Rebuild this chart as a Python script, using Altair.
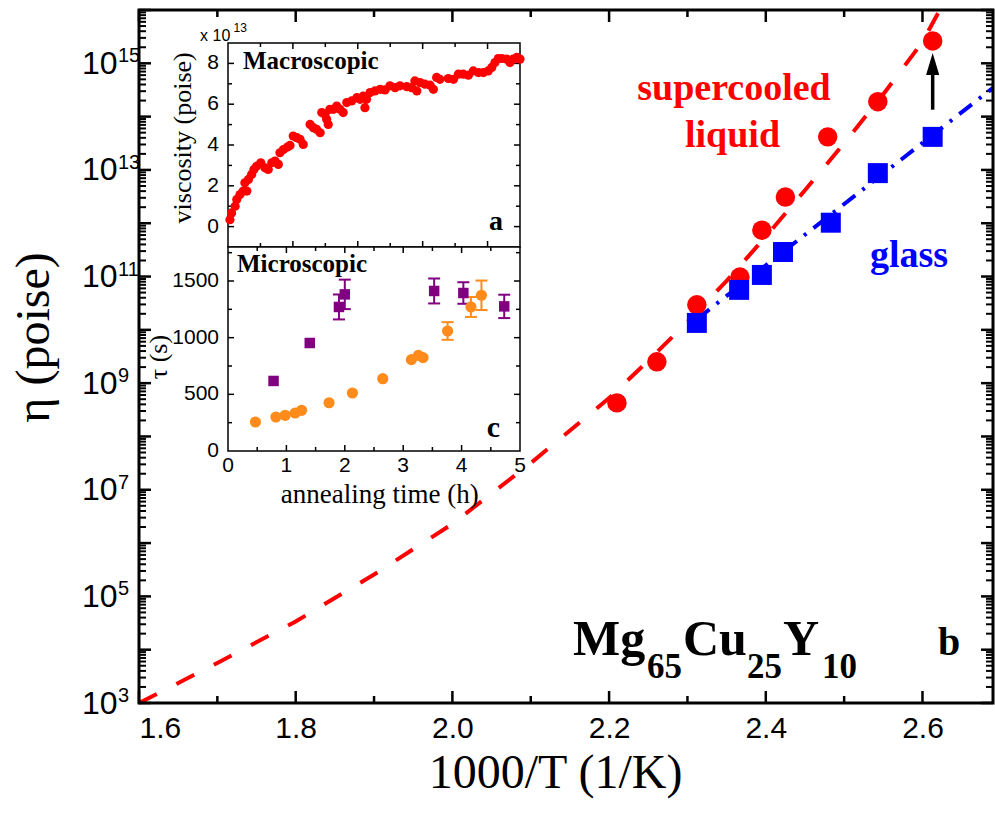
import altair as alt
import pandas as pd

# ---------------- main panel (b): 1000/T vs log10(eta) ----------------
liq_x = [2.210, 2.261, 2.312, 2.367, 2.395, 2.425, 2.479, 2.543, 2.613]
liq_log = [8.63, 9.40, 10.47, 10.99, 11.87, 12.49, 13.62, 14.28, 15.42]
gls_x = [2.312, 2.366, 2.395, 2.422, 2.483, 2.543, 2.613]
gls_log = [10.13, 10.75, 11.03, 11.46, 12.01, 12.94, 13.62]
vft_x = [1.60, 1.70, 1.80, 1.90, 2.00, 2.10, 2.20, 2.25, 2.30, 2.35, 2.40, 2.45, 2.50, 2.55, 2.60, 2.622]
vft_log = [3.00, 3.75, 4.53, 5.41, 6.36, 7.50, 8.72, 9.42, 10.15, 10.92, 11.75, 12.62, 13.50, 14.42, 15.40, 16.0]
fit_x = [2.312, 2.69]
fit_log = [10.20, 14.54]
arrow_x = [2.613]
arrow_from_log = [14.13]
arrow_to_log = [14.85]
arrow_head_log = [14.985]

x_tick_labels = [1.6, 1.8, 2.0, 2.2, 2.4, 2.6]
x_minor = [1.7, 1.9, 2.1, 2.3, 2.5]
y_label_exp = [3, 5, 7, 9, 11, 13, 15]
y_major_exp = list(range(3, 17))
y_minor_k = [2, 3, 4, 5, 6, 7, 8, 9]

# ---------------- inset a: macroscopic viscosity (x 1e13 poise) ----------------
macro_t = [0.06, 0.11, 0.22, 0.27, 0.37, 0.47, 0.58, 0.52, 0.63, 0.73, 0.80, 0.88, 1.01, 1.14, 1.24,
           1.35, 1.45, 1.55, 1.60, 1.71, 1.83, 1.91, 2.01, 2.12, 2.22, 2.32, 2.53, 2.63, 2.73, 2.84,
           2.89, 2.99, 3.04, 3.09, 3.14, 3.25, 3.35, 3.45, 3.55, 3.66, 3.81, 3.97, 4.07, 4.17, 4.22,
           4.27, 4.38, 4.53, 4.69, 4.84, 4.99, 5.15, 5.30, 5.51, 5.66, 5.76, 5.82, 5.92, 6.07, 6.23,
           6.33, 6.43, 6.53, 6.79, 6.95, 7.10, 7.25, 7.41, 7.56, 7.72, 7.87, 8.02, 8.13, 8.23, 8.33,
           8.44, 8.59, 8.69, 8.79, 8.90, 9.00]
macro_visc = [0.34, 0.67, 1.00, 1.33, 1.57, 1.74, 1.74, 2.15, 2.31, 2.56, 2.80, 2.96, 3.13, 2.88, 2.80,
              3.13, 3.21, 3.05, 3.62, 3.78, 3.90, 3.98, 4.44, 4.36, 4.28, 4.03, 5.01, 4.85, 4.77, 4.60,
              5.59, 5.50, 5.26, 5.01, 5.75, 5.75, 5.91, 5.75, 5.59, 6.08, 6.16, 6.32, 6.24, 6.40, 5.83,
              6.24, 6.57, 6.65, 6.73, 6.70, 6.90, 6.81, 6.90, 6.86, 6.81, 7.14, 6.65, 7.06, 6.98, 6.93,
              6.73, 7.31, 7.22, 7.26, 7.22, 7.47, 7.47, 7.42, 7.63, 7.55, 7.55, 7.63, 7.80, 8.04, 8.24,
              8.24, 8.21, 8.04, 8.21, 8.29, 8.21]

# ---------------- inset c: microscopic tau (s) vs annealing time (h) ----------------
orange_t = [0.47, 0.82, 0.98, 1.15, 1.26, 1.73, 2.13, 2.65, 3.14, 3.26, 3.34, 3.76, 4.16, 4.34]
orange_tau = [256, 300, 315, 335, 359, 426, 512, 638, 806, 844, 824, 1059, 1271, 1374]
orange_err = [0, 0, 0, 0, 0, 0, 0, 0, 0, 0, 0, 78, 88, 130]
purple_t = [0.78, 1.40, 1.90, 2.00, 3.53, 4.03, 4.73]
purple_tau = [618, 953, 1271, 1382, 1412, 1394, 1276]
purple_err = [0, 0, 110, 130, 110, 95, 103]

# ---------------- scales (explicit, so independent layers line up) ----------------
XM = alt.Scale(domain=[1.6, 2.69], nice=False, zero=False)
YM = alt.Scale(type='log', domain=[1e3, 1e16], nice=False)
XA = alt.Scale(domain=[0, 9], range=[89, 381], nice=False, zero=False)
YA = alt.Scale(domain=[-1, 9], range=[237, 33], nice=False, zero=False)
XC = alt.Scale(domain=[0, 5], range=[89, 381], nice=False, zero=False)
YC = alt.Scale(domain=[0, 1800], range=[441, 237], nice=False, zero=False)

RED = '#ff0000'
BLUE = '#0000ff'
ORANGE = '#ff8c1a'
PURPLE = '#800080'
SERIF = 'Liberation Serif'
SANS = 'Liberation Sans'


def ticks(values, side, length, xs, ys, fixed, sw):
    df = pd.DataFrame({'v': values, 'f': [fixed] * len(values)})
    if side in ('bottom', 'top'):
        off = -length if side == 'bottom' else length
        return alt.Chart(df).mark_rule(color='black', strokeWidth=sw, y2Offset=off).encode(
            x=alt.X('v:Q', scale=xs, axis=None),
            y=alt.Y('f:Q', scale=ys, axis=None),
            y2=alt.Y2('f:Q'))
    off = length if side == 'left' else -length
    return alt.Chart(df).mark_rule(color='black', strokeWidth=sw, x2Offset=off).encode(
        x=alt.X('f:Q', scale=xs, axis=None),
        x2=alt.X2('f:Q'),
        y=alt.Y('v:Q', scale=ys, axis=None))


def text_at(x, y, txt, xs, ys, **kw):
    df = pd.DataFrame({'x': x, 'y': y, 't': txt})
    return alt.Chart(df).mark_text(**kw).encode(
        x=alt.X('x:Q', scale=xs, axis=None),
        y=alt.Y('y:Q', scale=ys, axis=None),
        text='t:N')


def frame(x0, x1, y0, y1, xs, ys, sw, fill):
    df = pd.DataFrame({'x0': [x0], 'x1': [x1], 'y0': [y0], 'y1': [y1]})
    if fill:
        m = alt.Chart(df).mark_rect(fill='white', stroke='black', strokeWidth=sw)
    else:
        m = alt.Chart(df).mark_rect(fillOpacity=0, stroke='black', strokeWidth=sw)
    return m.encode(x=alt.X('x0:Q', scale=xs, axis=None), x2='x1:Q',
                    y=alt.Y('y0:Q', scale=ys, axis=None), y2='y1:Q')


# ---------------- main layers ----------------
x_axis = alt.Axis(values=x_tick_labels, format='.1f', labelFont=SANS, labelFontSize=30,
                  labelColor='black', labelPadding=10, ticks=False, tickSize=0, domain=False,
                  grid=False, labelFlush=True, labelOverlap=False,
                  title='1000/T (1/K)', titleFont=SERIF, titleFontSize=48, titleFontWeight='normal',
                  titleColor='black', titleX=416, titleY=84, titleBaseline='alphabetic',
                  titleAlign='center')
y_axis = alt.Axis(values=[10.0 ** e for e in y_label_exp], labelExpr="'10'", labelFont=SANS,
                  labelFontSize=32, labelColor='black', labelPadding=22, ticks=False, tickSize=0,
                  domain=False, grid=False, labelFlush=False, labelOverlap=False,
                  labelBaseline='middle',
                  title='η (poise)', titleFont=SERIF, titleFontSize=48, titleFontWeight='normal',
                  titleColor='black', titleX=-105, titleY=327, titleAngle=270,
                  titleBaseline='middle', titleAlign='center')

vft_df = pd.DataFrame({'x': vft_x, 'eta': [10.0 ** v for v in vft_log]})
vft_line = alt.Chart(vft_df).mark_line(color=RED, strokeWidth=4, strokeDash=[20, 22]).encode(
    x=alt.X('x:Q', scale=XM, axis=x_axis),
    y=alt.Y('eta:Q', scale=YM, axis=y_axis),
    order='x:Q')

# exponents of the "10" tick labels (superscripts)
exp_df = pd.DataFrame({'eta': [10.0 ** e for e in y_label_exp], 't': [str(e) for e in y_label_exp]})
y_exps = alt.Chart(exp_df).mark_text(font=SANS, fontSize=20, align='left', baseline='alphabetic',
                                      dy=-1, color='black').encode(
    x=alt.value(-21),
    y=alt.Y('eta:Q', scale=YM, axis=None),
    text='t:N')

fit_df = pd.DataFrame({'x': fit_x, 'eta': [10.0 ** v for v in fit_log]})
fit_line = alt.Chart(fit_df).mark_line(color=BLUE, strokeWidth=4, strokeDash=[16, 9, 3, 9]).encode(
    x=alt.X('x:Q', scale=XM, axis=None),
    y=alt.Y('eta:Q', scale=YM, axis=None))

liq_df = pd.DataFrame({'x': liq_x, 'eta': [10.0 ** v for v in liq_log]})
liq_pts = alt.Chart(liq_df).mark_point(shape='circle', filled=True, size=380, color=RED, opacity=1).encode(
    x=alt.X('x:Q', scale=XM, axis=None),
    y=alt.Y('eta:Q', scale=YM, axis=None))

gls_df = pd.DataFrame({'x': gls_x, 'eta': [10.0 ** v for v in gls_log]})
gls_pts = alt.Chart(gls_df).mark_point(shape='square', filled=True, size=400, color=BLUE, opacity=1).encode(
    x=alt.X('x:Q', scale=XM, axis=None),
    y=alt.Y('eta:Q', scale=YM, axis=None))

arr_df = pd.DataFrame({'x': arrow_x, 'y0': [10.0 ** v for v in arrow_from_log],
                       'y1': [10.0 ** v for v in arrow_to_log],
                       'yh': [10.0 ** v for v in arrow_head_log]})
arrow_shaft = alt.Chart(arr_df).mark_rule(color='black', strokeWidth=3.5).encode(
    x=alt.X('x:Q', scale=XM, axis=None),
    y=alt.Y('y0:Q', scale=YM, axis=None), y2='y1:Q')
arrow_head = alt.Chart(arr_df).mark_point(shape='M0,-1L0.6,1L-0.6,1Z', filled=True, size=484,
                                          color='black', opacity=1).encode(
    x=alt.X('x:Q', scale=XM, axis=None),
    y=alt.Y('yh:Q', scale=YM, axis=None))

y_minor_vals = [k * 10.0 ** e for e in y_major_exp[:-1] for k in y_minor_k]
main_ticks = [
    ticks(x_tick_labels, 'bottom', 12, XM, YM, 1e3, 2.5),
    ticks(x_minor, 'bottom', 7, XM, YM, 1e3, 2.5),
    ticks(x_tick_labels, 'top', 12, XM, YM, 1e16, 2.5),
    ticks(x_minor, 'top', 7, XM, YM, 1e16, 2.5),
    ticks([10.0 ** e for e in y_major_exp], 'left', 12, XM, YM, 1.6, 2.5),
    ticks(y_minor_vals, 'left', 7, XM, YM, 1.6, 2),
    ticks([10.0 ** e for e in y_major_exp], 'right', 12, XM, YM, 2.69, 2.5),
    ticks(y_minor_vals, 'right', 7, XM, YM, 2.69, 2),
]
main_frame = frame(1.6, 2.69, 1e3, 1e16, XM, YM, 3, False)

# annotations (positions in data coordinates)
t_super = text_at([2.3594], [10 ** 14.311], ['supercooled'], XM, YM, font=SERIF, fontSize=38,
                  fontWeight='bold', color=RED, align='center', baseline='alphabetic')
t_liquid = text_at([2.3575], [10 ** 13.430], ['liquid'], XM, YM, font=SERIF, fontSize=38,
                   fontWeight='bold', color=RED, align='center', baseline='alphabetic')
t_glass = text_at([2.5828], [10 ** 11.179], ['glass'], XM, YM, font=SERIF, fontSize=38,
                  fontWeight='bold', color=BLUE, align='center', baseline='alphabetic')
t_formula = text_at([2.1539, 2.2943, 2.4220], [10 ** 3.900] * 3, ['Mg', 'Cu', 'Y'], XM, YM,
                    font=SERIF, fontSize=50, fontWeight='bold', color='black', align='left',
                    baseline='alphabetic')
t_subs = text_at([2.2484, 2.3760, 2.4718], [10 ** 3.469] * 3, ['65', '25', '10'], XM, YM,
                 font=SERIF, fontSize=35, fontWeight='bold', color='black', align='left',
                 baseline='alphabetic')
t_b = text_at([2.6198], [10 ** 3.900], ['b'], XM, YM, font=SERIF, fontSize=40, fontWeight='bold',
              color='black', align='left', baseline='alphabetic')

main_layers = [vft_line, y_exps, *main_ticks, fit_line, liq_pts, gls_pts, arrow_shaft, arrow_head,
               t_super, t_liquid, t_glass, t_formula, t_subs, t_b, main_frame]

# ---------------- inset a ----------------
a_ticks = [
    ticks([2, 4, 6, 8], 'bottom', 6, XA, YA, -1, 1.5),
    ticks([1, 3, 5, 7], 'bottom', 4, XA, YA, -1, 1.5),
    ticks([2, 4, 6, 8], 'top', 6, XA, YA, 9, 1.5),
    ticks([1, 3, 5, 7], 'top', 4, XA, YA, 9, 1.5),
    ticks([0, 2, 4, 6, 8], 'left', 6, XA, YA, 0, 1.5),
    ticks([1, 3, 5, 7], 'left', 4, XA, YA, 0, 1.5),
    ticks([0, 2, 4, 6, 8], 'right', 6, XA, YA, 9, 1.5),
    ticks([1, 3, 5, 7], 'right', 4, XA, YA, 9, 1.5),
]
a_ylabels = [0, 2, 4, 6, 8]
a_lab = text_at([0] * 5, a_ylabels, [str(v) for v in a_ylabels], XA, YA, font=SANS, fontSize=21,
                align='right', baseline='middle', dx=-9, color='black')
macro_df = pd.DataFrame({'t': macro_t, 'v': macro_visc})
macro_pts = alt.Chart(macro_df).mark_point(shape='circle', filled=True, size=85, color=RED, opacity=1).encode(
    x=alt.X('t:Q', scale=XA, axis=None), y=alt.Y('v:Q', scale=YA, axis=None))
a_title = text_at([-1.387], [4.35], ['viscosity (poise)'], XA, YA, font=SERIF, fontSize=26,
                  angle=270, align='center', baseline='middle', color='black')
a_x10 = text_at([-0.86], [9.09], ['x 10'], XA, YA, font=SANS, fontSize=16, align='left',
                baseline='alphabetic', color='black')
a_x13 = text_at([0.17], [9.55], ['13'], XA, YA, font=SANS, fontSize=12, align='left',
                baseline='alphabetic', color='black')
a_macro = text_at([0.462], [7.715], ['Macroscopic'], XA, YA, font=SERIF, fontSize=25,
                  fontWeight='bold', align='left', baseline='alphabetic', color='black')
a_a = text_at([8.477], [-0.147], ['a'], XA, YA, font=SERIF, fontSize=28, fontWeight='bold',
              align='right', baseline='alphabetic', color='black')

a_layers = [frame(0, 9, -1, 9, XA, YA, 1.5, True), *a_ticks, macro_pts, a_lab, a_title,
            a_x10, a_x13, a_macro, a_a]

# ---------------- inset c ----------------
c_ticks = [
    ticks([1, 2, 3, 4], 'bottom', 6, XC, YC, 0, 1.5),
    ticks([0.5, 1.5, 2.5, 3.5, 4.5], 'bottom', 4, XC, YC, 0, 1.5),
    ticks([1, 2, 3, 4], 'top', 6, XC, YC, 1800, 1.5),
    ticks([0.5, 1.5, 2.5, 3.5, 4.5], 'top', 4, XC, YC, 1800, 1.5),
    ticks([500, 1000, 1500], 'left', 6, XC, YC, 0, 1.5),
    ticks([250, 750, 1250, 1750], 'left', 4, XC, YC, 0, 1.5),
    ticks([500, 1000, 1500], 'right', 6, XC, YC, 5, 1.5),
    ticks([250, 750, 1250, 1750], 'right', 4, XC, YC, 5, 1.5),
]
c_ylabels = [0, 500, 1000, 1500]
c_xlabels = [0, 1, 2, 3, 4, 5]
c_ylab = text_at([0] * 4, c_ylabels, [str(v) for v in c_ylabels], XC, YC, font=SANS, fontSize=21,
                 align='right', baseline='middle', dx=-9, color='black')
c_xlab = text_at(c_xlabels, [0] * 6, [str(v) for v in c_xlabels], XC, YC, font=SANS, fontSize=21,
                 align='center', baseline='middle', dy=15, color='black')

o_err = pd.DataFrame({'t': orange_t, 'lo': [a - e for a, e in zip(orange_tau, orange_err)],
                      'hi': [a + e for a, e in zip(orange_tau, orange_err)], 'e': orange_err})
o_err = o_err[o_err['e'] > 0]
p_err = pd.DataFrame({'t': purple_t, 'lo': [a - e for a, e in zip(purple_tau, purple_err)],
                      'hi': [a + e for a, e in zip(purple_tau, purple_err)], 'e': purple_err})
p_err = p_err[p_err['e'] > 0]


def errbars(df, color):
    bar = alt.Chart(df).mark_rule(color=color, strokeWidth=2).encode(
        x=alt.X('t:Q', scale=XC, axis=None), y=alt.Y('lo:Q', scale=YC, axis=None), y2='hi:Q')
    cap_lo = alt.Chart(df).mark_tick(color=color, orient='horizontal', size=12, thickness=2,
                                     opacity=1).encode(
        x=alt.X('t:Q', scale=XC, axis=None), y=alt.Y('lo:Q', scale=YC, axis=None))
    cap_hi = alt.Chart(df).mark_tick(color=color, orient='horizontal', size=12, thickness=2,
                                     opacity=1).encode(
        x=alt.X('t:Q', scale=XC, axis=None), y=alt.Y('hi:Q', scale=YC, axis=None))
    return [bar, cap_lo, cap_hi]


o_pts = alt.Chart(pd.DataFrame({'t': orange_t, 'v': orange_tau})).mark_point(
    shape='circle', filled=True, size=125, color=ORANGE, opacity=1).encode(
    x=alt.X('t:Q', scale=XC, axis=None), y=alt.Y('v:Q', scale=YC, axis=None))
p_pts = alt.Chart(pd.DataFrame({'t': purple_t, 'v': purple_tau})).mark_point(
    shape='square', filled=True, size=110, color=PURPLE, opacity=1).encode(
    x=alt.X('t:Q', scale=XC, axis=None), y=alt.Y('v:Q', scale=YC, axis=None))

c_title = text_at([-1.18], [829], ['τ (s)'], XC, YC, font=SERIF, fontSize=26, angle=270,
                  align='center', baseline='middle', color='black')
c_xtitle = text_at([2.60], [-459], ['annealing time (h)'], XC, YC, font=SERIF, fontSize=27,
                   align='center', baseline='alphabetic', color='black')
c_micro = text_at([0.154], [1579], ['Microscopic'], XC, YC, font=SERIF, fontSize=25,
                  fontWeight='bold', align='left', baseline='alphabetic', color='black')
c_c = text_at([4.658], [124], ['c'], XC, YC, font=SERIF, fontSize=30, fontWeight='bold',
              align='right', baseline='alphabetic', color='black')

c_layers = [frame(0, 5, 0, 1800, XC, YC, 1.5, True), *c_ticks, *errbars(p_err, PURPLE),
            *errbars(o_err, ORANGE), p_pts, o_pts, c_ylab, c_xlab, c_title, c_xtitle, c_micro, c_c]

chart = alt.layer(*main_layers, *a_layers, *c_layers).resolve_scale(
    x='independent', y='independent'
).properties(
    width=854, height=693,
    autosize=alt.AutoSizeParams(type='none'),
    padding={'left': 139, 'top': 10, 'right': 2, 'bottom': 114},
).configure_view(strokeWidth=0).configure(background='white')

chart.save("out.html", embed_options={"renderer": "svg", "actions": False})
